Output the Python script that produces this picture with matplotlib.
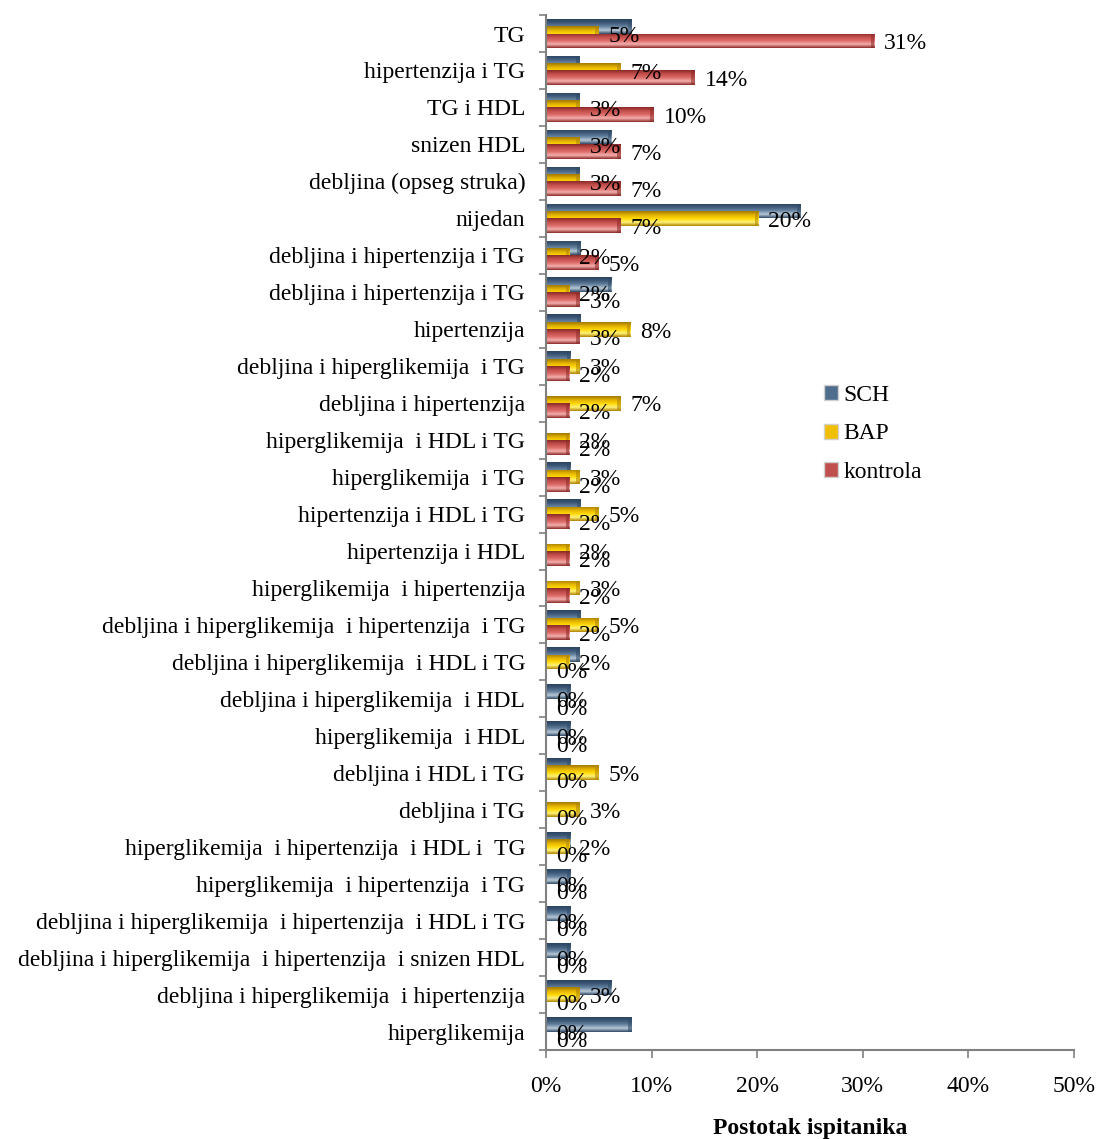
import numpy as np
import matplotlib
matplotlib.use('Agg')
import matplotlib.pyplot as plt
from matplotlib.colors import LinearSegmentedColormap
from matplotlib.patches import Patch

plt.rcParams['font.family'] = ['Liberation Serif', 'DejaVu Serif']

# Kategorije (odozgo prema dolje)
categories = [
    "TG",
    "hipertenzija i TG",
    "TG i HDL",
    "snizen HDL",
    "debljina (opseg struka)",
    "nijedan",
    "debljina i hipertenzija i TG",
    "debljina i hipertenzija i TG",
    "hipertenzija",
    "debljina i hiperglikemija  i TG",
    "debljina i hipertenzija",
    "hiperglikemija  i HDL i TG",
    "hiperglikemija  i TG",
    "hipertenzija i HDL i TG",
    "hipertenzija i HDL",
    "hiperglikemija  i hipertenzija",
    "debljina i hiperglikemija  i hipertenzija  i TG",
    "debljina i hiperglikemija  i HDL i TG",
    "debljina i hiperglikemija  i HDL",
    "hiperglikemija  i HDL",
    "debljina i HDL i TG",
    "debljina i TG",
    "hiperglikemija  i hipertenzija  i HDL i  TG",
    "hiperglikemija  i hipertenzija  i TG",
    "debljina i hiperglikemija  i hipertenzija  i HDL i TG",
    "debljina i hiperglikemija  i hipertenzija  i snizen HDL",
    "debljina i hiperglikemija  i hipertenzija",
    "hiperglikemija",
]

sch = [8.1, 3.2, 3.2, 6.2, 3.2, 24.1, 3.3, 6.2, 3.3, 2.3, 0, 0, 2.3, 3.3,
       0, 0, 3.3, 3.2, 2.3, 2.3, 2.3, 0, 2.3, 2.3, 2.3, 2.3, 6.2, 8.1]
bap = [5.0, 7.1, 3.2, 3.2, 3.2, 20.1, 2.2, 2.2, 8.0, 3.2, 7.1, 2.2, 3.2, 5.0,
       2.2, 3.2, 5.0, 2.2, 0, 0, 5.0, 3.2, 2.2, 0, 0, 0, 3.2, 0]
kontrola = [31.1, 14.1, 10.2, 7.1, 7.1, 7.1, 5.0, 3.2, 3.2, 2.2, 2.2, 2.2, 2.2, 2.2,
            2.2, 2.2, 2.2, 0, 0, 0, 0, 0, 0, 0, 0, 0, 0, 0]

series = ["SCH", "BAP", "kontrola"]

# boje gradijenta (odozgo prema dolje po traci)
grad_colors = {
    "SCH": ["#2f4a66", "#b9c9d9", "#6482a0", "#3e5a78", "#2a4360"],
    "BAP": ["#b08400", "#fff27a", "#ffd800", "#e0b000", "#a07800"],
    "kontrola": ["#8c2a28", "#f3b0ae", "#dc6a66", "#c24e4a", "#8a2a28"],
}
legend_colors = {"SCH": "#4f6d8c", "BAP": "#f0c000", "kontrola": "#c0504d"}

fig = plt.figure(figsize=(10.99, 11.39), dpi=100)
ax = fig.add_axes([0.4968, 0.0781, 0.4805, 0.9087])

n = len(categories)
y = np.arange(n)
bar_h = 0.40
offsets = [-0.2, 0.0, 0.2]
values = [sch, bap, kontrola]

ax.set_xlim(0, 50)
ax.set_ylim(n - 0.5, -0.5)

grad = np.linspace(0, 1, 64).reshape(-1, 1)
for name, vals, off in zip(series, values, offsets):
    cmap = LinearSegmentedColormap.from_list(name, grad_colors[name])
    bars = ax.barh(y + off, vals, height=bar_h, color=legend_colors[name],
                   edgecolor='none', zorder=2)
    for b in bars:
        w = b.get_width()
        if w <= 0:
            continue
        x0, y0, h = b.get_x(), b.get_y(), b.get_height()
        im = ax.imshow(grad, cmap=cmap, aspect='auto', interpolation='bilinear',
                       extent=(x0, x0 + w, y0, y0 + h), zorder=2)
        im.set_clip_path(b)
        # tamniji kraj trake (3D efekt)
        e = min(0.35, w * 0.3)
        ax.barh(y0 + h / 2, e, left=x0 + w - e, height=h,
                color=grad_colors[name][0], alpha=0.55, edgecolor='none', zorder=2)

ax.set_xlim(0, 50)
ax.set_ylim(n - 0.5, -0.5)

# oznake vrijednosti za BAP i kontrolu
for vals, off in zip([bap, kontrola], [0.0, 0.2]):
    for i, v in enumerate(vals):
        ax.annotate(f"{round(v):.0f}%", (v, i + off), xytext=(7, -2),
                    textcoords='offset points', ha='left', va='center',
                    fontsize=17, zorder=5)

# osi
for s in ['top', 'right']:
    ax.spines[s].set_visible(False)
for s in ['left', 'bottom']:
    ax.spines[s].set_color('#808080')
    ax.spines[s].set_linewidth(1.5)

ax.set_yticks(np.arange(n + 1) - 0.5)
ax.set_yticklabels([])
ax.set_yticks(y, minor=True)
ax.set_yticklabels(categories, minor=True, fontsize=17)
ax.tick_params(axis='y', which='major', length=5, width=1.2, color='#808080')
ax.tick_params(axis='y', which='minor', length=0, pad=15)

xt = np.arange(0, 51, 10)
ax.set_xticks(xt)
ax.set_xticklabels([f"{t}%" for t in xt], fontsize=17)
ax.tick_params(axis='x', length=6, width=1.2, color='#808080', pad=13)
ax.set_xlabel("Postotak ispitanika", fontsize=17, fontweight='bold', labelpad=15)

handles = [Patch(facecolor=legend_colors[s], edgecolor='#d0d0d0', label=s) for s in series]
fig.legend(handles=handles, loc='center left', bbox_to_anchor=(0.73, 0.619),
           frameon=False, fontsize=17, handlelength=0.6, handleheight=0.6,
           handletextpad=0.25, labelspacing=0.75)

fig.savefig('out.png', dpi=100)
